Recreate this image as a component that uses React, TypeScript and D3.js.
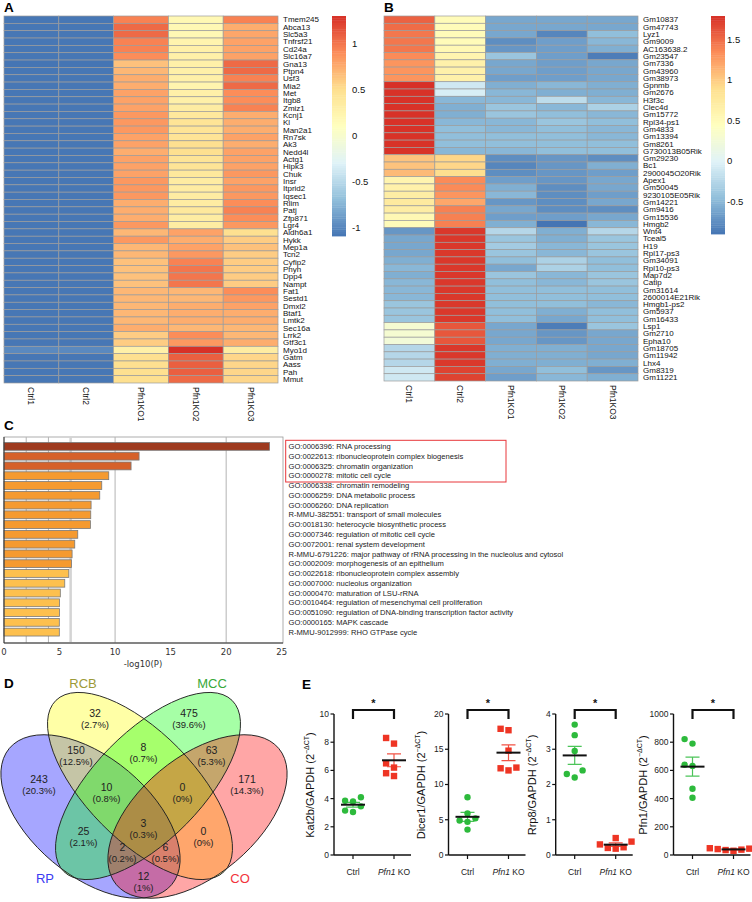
import React from 'react';
import * as d3 from 'd3';

const SANS = 'Liberation Sans, Arial, Helvetica, sans-serif';

// ---------- heatmaps (A, B) ----------
const heatPalette = ['#4575B4', '#91BFDB', '#E0F3F8', '#FFFFBF', '#FEE090', '#FC8D59', '#D73027'];
const samples = ['Ctrl1', 'Ctrl2', 'Pfn1KO1', 'Pfn1KO2', 'Pfn1KO3'];

const genesA = ['Tmem245', 'Abca13', 'Slc5a3', 'Tnfrsf21', 'Cd24a', 'Slc16a7', 'Gna13', 'Ptpn4', 'Usf3', 'Mia2',
  'Met', 'Itgb8', 'Zmiz1', 'Kcnj1', 'Kl', 'Man2a1', 'Rn7sk', 'Ak3', 'Nedd4l', 'Actg1', 'Hipk3', 'Chuk', 'Insr',
  'Itprid2', 'Iqsec1', 'Rlim', 'Patj', 'Zfp871', 'Lgr4', 'Aldh6a1', 'Hykk', 'Mep1a', 'Tcn2', 'Cyfip2', 'Phyh',
  'Dpp4', 'Nampt', 'Fat1', 'Sestd1', 'Dmxl2', 'Btaf1', 'Lmtk2', 'Sec16a', 'Lrrk2', 'Gtf3c1', 'Myo1d', 'Gatm',
  'Aass', 'Pah', 'Mmut'];

const exprA = [
  [-1.08, -1.08, 0.95, 0.2, 0.95], [-1.08, -1.08, 1.05, 0.2, 0.75], [-1.08, -1.08, 1.05, 0.2, 0.78],
  [-1.08, -1.08, 0.95, 0.25, 0.8], [-1.08, -1.08, 0.95, 0.3, 0.8], [-1.08, -1.08, 0.9, 0.3, 0.8],
  [-1.09, -1.09, 0.65, 0.3, 1.05], [-1.08, -1.08, 0.7, 0.3, 1.05], [-1.08, -1.08, 0.75, 0.3, 0.95],
  [-1.08, -1.08, 0.75, 0.25, 1.05], [-1.08, -1.08, 0.8, 0.3, 0.9], [-1.08, -1.08, 0.8, 0.3, 0.9],
  [-1.08, -1.08, 0.8, 0.35, 0.95], [-1.08, -1.08, 0.85, 0.4, 0.75], [-1.08, -1.08, 0.85, 0.45, 0.75],
  [-1.08, -1.08, 0.85, 0.45, 0.75], [-1.08, -1.08, 0.8, 0.45, 0.8], [-1.08, -1.08, 0.8, 0.5, 0.75],
  [-1.08, -1.08, 0.75, 0.5, 0.8], [-1.08, -1.08, 0.8, 0.45, 0.8], [-1.08, -1.08, 0.8, 0.45, 0.8],
  [-1.08, -1.08, 0.8, 0.4, 0.85], [-1.08, -1.08, 0.85, 0.35, 0.8], [-1.08, -1.08, 0.85, 0.35, 0.85],
  [-1.08, -1.08, 0.85, 0.35, 0.85], [-1.08, -1.08, 0.75, 0.35, 0.9], [-1.08, -1.08, 0.75, 0.4, 0.95],
  [-1.08, -1.08, 0.75, 0.35, 0.9], [-1.08, -1.08, 0.85, 0.35, 0.85], [-1.08, -1.08, 0.7, 0.8, 0.5],
  [-1.08, -1.08, 0.85, 0.75, 0.6], [-1.08, -1.08, 0.7, 0.8, 0.65], [-1.08, -1.08, 0.7, 0.85, 0.6],
  [-1.08, -1.08, 0.65, 0.95, 0.6], [-1.08, -1.08, 0.65, 1.0, 0.6], [-1.08, -1.08, 0.65, 1.0, 0.6],
  [-1.08, -1.08, 0.65, 1.0, 0.6], [-1.08, -1.08, 0.7, 0.7, 0.9], [-1.08, -1.08, 0.7, 0.7, 0.85],
  [-1.08, -1.08, 0.7, 0.75, 0.8], [-1.08, -1.08, 0.7, 0.75, 0.75], [-1.08, -1.08, 0.7, 0.75, 0.75],
  [-1.08, -1.08, 0.75, 0.7, 0.7], [-1.08, -1.08, 0.6, 0.9, 0.7], [-1.08, -1.08, 0.6, 0.85, 0.75],
  [-0.98, -0.98, 0.3, 1.3, 0.35], [-1.08, -1.08, 0.5, 1.1, 0.55], [-1.08, -1.08, 0.5, 1.1, 0.55],
  [-1.08, -1.08, 0.5, 1.1, 0.55], [-1.08, -1.08, 0.5, 1.05, 0.55],
];
const legendTicksA = [-1, -0.5, 0, 0.5, 1];

const genesB = ['Gm10837', 'Gm47743', 'Lyz1', 'Gm9009', 'AC163638.2', 'Gm23547', 'Gm7336', 'Gm43960', 'Gm38973',
  'Gpnmb', 'Gm2676', 'H3f3c', 'Clec4d', 'Gm15772', 'Rpl34-ps1', 'Gm4833', 'Gm13394', 'Gm8261', 'G730013B05Rik',
  'Gm29230', 'Bc1', '2900045O20Rik', 'Apex1', 'Gm50045', '9230105E05Rik', 'Gm14221', 'Gm9416', 'Gm15536', 'Hmgb2',
  'Wnt4', 'Tceal5', 'H19', 'Rpl17-ps3', 'Gm34091', 'Rpl10-ps3', 'Map7d2', 'Catip', 'Gm31614', '2600014E21Rik',
  'Hmgb1-ps2', 'Gm5937', 'Gm16433', 'Lsp1', 'Gm2710', 'Epha10', 'Gm18705', 'Gm11942', 'Lhx4', 'Gm8319', 'Gm11221'];

const exprB = [
  [1.55, 0.5, -0.6, -0.6, -0.6], [1.5, 0.5, -0.6, -0.6, -0.6], [1.45, 0.5, -0.6, -0.8, -0.45],
  [1.45, 0.5, -0.75, -0.65, -0.5], [1.45, 0.55, -0.7, -0.65, -0.55], [1.35, 0.6, -0.4, -0.65, -0.85],
  [1.3, 0.65, -0.6, -0.65, -0.6], [1.3, 0.65, -0.6, -0.65, -0.6], [1.3, 0.65, -0.65, -0.65, -0.6],
  [1.79, -0.1, -0.55, -0.5, -0.55], [1.78, -0.05, -0.5, -0.55, -0.55], [1.78, -0.5, -0.5, -0.2, -0.5],
  [1.78, -0.55, -0.4, -0.5, -0.3], [1.78, -0.55, -0.4, -0.45, -0.5], [1.78, -0.5, -0.5, -0.4, -0.45],
  [1.78, -0.45, -0.5, -0.45, -0.5], [1.78, -0.45, -0.45, -0.45, -0.5], [1.78, -0.45, -0.45, -0.45, -0.45],
  [1.78, -0.5, -0.5, -0.45, -0.45], [1.05, 0.95, -0.75, -0.7, -0.75], [1.05, 0.95, -0.8, -0.7, -0.55],
  [1.1, 0.9, -0.75, -0.7, -0.65], [0.6, 1.35, -0.65, -0.7, -0.6], [0.65, 1.35, -0.55, -0.75, -0.6],
  [0.7, 1.3, -0.5, -0.75, -0.65], [0.75, 1.2, -0.7, -0.75, -0.6], [0.7, 1.4, -0.6, -0.75, -0.75],
  [0.55, 1.4, -0.65, -0.65, -0.6], [0.5, 1.4, -0.55, -0.9, -0.5], [-0.7, 1.75, -0.25, -0.55, -0.25],
  [-0.6, 1.75, -0.4, -0.55, -0.4], [-0.6, 1.75, -0.35, -0.5, -0.4], [-0.6, 1.75, -0.4, -0.5, -0.4],
  [-0.55, 1.75, -0.45, -0.3, -0.45], [-0.5, 1.75, -0.6, -0.3, -0.45], [-0.55, 1.75, -0.4, -0.5, -0.4],
  [-0.5, 1.75, -0.45, -0.5, -0.4], [-0.5, 1.75, -0.45, -0.45, -0.45], [-0.5, 1.75, -0.45, -0.45, -0.45],
  [-0.4, 1.75, -0.45, -0.45, -0.5], [-0.4, 1.75, -0.45, -0.55, -0.45], [-0.4, 1.75, -0.45, -0.6, -0.45],
  [0.3, 1.6, -0.6, -0.85, -0.4], [0.3, 1.6, -0.6, -0.7, -0.6], [0.25, 1.6, -0.6, -0.7, -0.6],
  [-0.25, 1.75, -0.55, -0.55, -0.6], [-0.25, 1.75, -0.55, -0.55, -0.6], [-0.25, 1.75, -0.55, -0.55, -0.55],
  [-0.1, 1.7, -0.6, -0.45, -0.7], [-0.1, 1.7, -0.65, -0.5, -0.55],
];
const legendTicksB = [-0.5, 0, 0.5, 1, 1.5];

// ---------- enrichment (C) ----------
const goTerms = ['GO:0006396: RNA processing', 'GO:0022613: ribonucleoprotein complex biogenesis',
  'GO:0006325: chromatin organization', 'GO:0000278: mitotic cell cycle', 'GO:0006338: chromatin remodeling',
  'GO:0006259: DNA metabolic process', 'GO:0006260: DNA replication', 'R-MMU-382551: transport of small molecules',
  'GO:0018130: heterocycle biosynthetic process', 'GO:0007346: regulation of mitotic cell cycle',
  'GO:0072001: renal system development',
  'R-MMU-6791226: major pathway of rRNA processing in the nucleolus and cytosol',
  'GO:0002009: morphogenesis of an epithelium', 'GO:0022618: ribonucleoprotein complex assembly',
  'GO:0007000: nucleolus organization', 'GO:0000470: maturation of LSU-rRNA',
  'GO:0010464: regulation of mesenchymal cell proliferation',
  'GO:0051090: regulation of DNA-binding transcription factor activity', 'GO:0000165: MAPK cascade',
  'R-MMU-9012999: RHO GTPase cycle'];
const goLogP = [23.9, 12.16, 11.44, 9.43, 8.8, 8.62, 7.84, 7.81, 7.78, 6.64, 6.37, 6.13, 6.07, 5.83, 5.47,
  5.07, 5.0, 5.0, 4.98, 4.98];
const goGridLines = [2, 4, 6, 10, 20];

// ---------- venn (D) ----------
const vennSets = ['RP', 'RCB', 'MCC', 'CO'];
const vennSetColors = ['#0000FF', '#FFFF00', '#00FF00', '#FF0000'];
const vennLabelColors = ['#3B3BF2', '#9C9A38', '#38A838', '#F2333A'];
const vennRegions = ['RP', 'RCB', 'MCC', 'CO', 'RP&RCB', 'RCB&MCC', 'MCC&CO', 'RP&RCB&MCC', 'RCB&MCC&CO',
  'RP&MCC', 'RP&RCB&MCC&CO', 'RCB&CO', 'RP&MCC&CO', 'RP&RCB&CO', 'RP&CO'];
const vennCounts = [243, 32, 475, 171, 150, 8, 63, 10, 0, 25, 3, 0, 2, 6, 12];

// ---------- qPCR (E) ----------
const qpcrGenes = ['Kat2b', 'Dicer1', 'Rrp8', 'Pfn1'];
const qpcrMax = [10, 20, 4, 1000];
const ctrlVals = [
  [3.05, 3.15, 3.45, 3.8, 3.85, 4.1],
  [3.6, 4.7, 4.9, 5.2, 5.9, 8.2],
  [2.2, 2.3, 2.4, 2.95, 3.4, 3.7],
  [406, 470, 632, 640, 790, 822],
];
const koVals = [
  [5.6, 5.8, 6.2, 6.5, 7.9, 8.3],
  [12.0, 12.3, 12.4, 14.8, 17.7, 17.9],
  [0.18, 0.2, 0.22, 0.3, 0.38, 0.48],
  [30, 35, 38, 42, 45, 48],
];

// layout
const vennShapes = [
  { cx: 90.5, cy: 816.5, rx: 106, ry: 59, rot: 40 },
  { cx: 140, cy: 786, rx: 120, ry: 54, rot: 45.5 },
  { cx: 148, cy: 786, rx: 120, ry: 54, rot: -45.5 },
  { cx: 197.5, cy: 816.5, rx: 106, ry: 59, rot: -40 },
];
const vennLabelPos: Record<string, [number, number]> = {
  'RP': [39, 779], 'RCB': [95, 713], 'MCC': [189, 713], 'CO': [247, 779],
  'RP&RCB': [76, 750], 'RCB&MCC': [143.5, 747], 'MCC&CO': [211.5, 750],
  'RP&RCB&MCC': [106.5, 787], 'RCB&MCC&CO': [182.5, 787],
  'RP&MCC': [83.5, 831], 'RP&RCB&MCC&CO': [143.5, 823], 'RCB&CO': [203.5, 831],
  'RP&MCC&CO': [122.5, 847], 'RP&RCB&CO': [165.5, 847], 'RP&CO': [143.5, 876],
};
const vennTitlePos: [number, number][] = [[45, 883], [83, 688], [212, 688], [240, 883]];
const qpcrAxisX = [334, 448.5, 555.7, 673.5];
const qpcrTitleX = [314, 425, 535.7, 646.7];

function Heatmap({ genes, expr, x0, x1, y0, y1, legX, legY0, legY1, legTicks, legLabelDx }: {
  genes: string[]; expr: number[][]; x0: number; x1: number; y0: number; y1: number;
  legX: number; legY0: number; legY1: number; legTicks: number[]; legLabelDx: number;
}) {
  const [vmin, vmax] = d3.extent(expr.flat()) as [number, number];
  const x = d3.scaleBand().domain(samples).range([x0, x1]);
  const y = d3.scaleBand().domain(genes).range([y0, y1]);
  const stops = heatPalette.map((_, i) => vmin + ((vmax - vmin) * i) / (heatPalette.length - 1));
  const color = d3.scaleLinear<string>().domain(stops).range(heatPalette);
  const ly = d3.scaleLinear().domain([vmin, vmax]).range([legY1, legY0]);
  const steps = d3.range(100).map((i) => vmin + ((vmax - vmin) * i) / 100);
  const dv = (vmax - vmin) / 100;
  return (
    <g>
      {genes.map((g, r) =>
        samples.map((s, c) => (
          <rect key={g + s} x={x(s)} y={y(g)} width={x.bandwidth()} height={y.bandwidth()}
            fill={color(expr[r][c])} stroke="#9c9c9c" strokeWidth={0.7} />
        )),
      )}
      {genes.map((g) => (
        <text key={g} x={x1 + 5} y={(y(g) as number) + y.bandwidth() / 2} dy="0.35em" fontSize={8} fill="#111">{g}</text>
      ))}
      {samples.map((s) => (
        <text key={s} transform={`translate(${(x(s) as number) + x.bandwidth() / 2},${y1 + 4}) rotate(90)`}
          dy="0.35em" fontSize={8.5} fill="#111">{s}</text>
      ))}
      {steps.map((v) => (
        <rect key={v} x={legX} y={ly(v + dv)} width={14} height={ly(v) - ly(v + dv) + 0.4} fill={color(v + dv / 2)} />
      ))}
      {legTicks.map((t) => (
        <text key={t} x={legX + legLabelDx} y={ly(t)} dy="0.35em" fontSize={9.5} fill="#111">{t}</text>
      ))}
    </g>
  );
}

function barColor(v: number) {
  if (v > 20) return '#9E3A1F';
  if (v > 10) return '#D5612A';
  if (v > 6) return '#F59A30';
  return '#FDC04E';
}

function Enrichment() {
  const x = d3.scaleLinear().domain([0, 25]).range([4, 281.7]);
  const y = d3.scaleBand().domain(goTerms).range([441.5, 637]).paddingInner(0.2).paddingOuter(0.1);
  const top = 437, bottom = 643, right = 283;
  return (
    <g>
      <rect x={4} y={top} width={right - 4} height={bottom - top} fill="none" stroke="#9a9a9a" strokeWidth={0.8} />
      {goGridLines.map((t) => (
        <line key={t} x1={x(t)} x2={x(t)} y1={top} y2={bottom}
          stroke={t === 6 ? '#d4d4d4' : '#b4b4b4'} strokeWidth={t === 6 ? 2.5 : 1} />
      ))}
      {goTerms.map((g, i) => (
        <rect key={g} x={x(0)} y={y(g)} width={x(goLogP[i]) - x(0)} height={y.bandwidth()}
          fill={barColor(goLogP[i])} stroke="#7a7a7a" strokeWidth={0.8} />
      ))}
      <line x1={4} x2={4} y1={top} y2={bottom} stroke="#333" strokeWidth={1} />
      <line x1={4} x2={right} y1={bottom} y2={bottom} stroke="#333" strokeWidth={1} />
      {x.ticks(5).map((t) => (
        <text key={t} x={x(t)} y={655} textAnchor="middle" fontSize={8.5} fill="#333"
          fontFamily="DejaVu Sans, sans-serif">{t}</text>
      ))}
      <text x={143} y={667} textAnchor="middle" fontSize={8.5} fill="#333" fontFamily="DejaVu Sans, sans-serif">-log10(P)</text>
      {goTerms.map((g) => (
        <text key={g} x={288.5} y={(y(g) as number) + y.bandwidth() / 2} dy="0.35em" fontSize={7.6} fill="#222">{g}</text>
      ))}
      <rect x={285.7} y={440.3} width={220.3} height={41.7} fill="none" stroke="#E8363A" strokeWidth={1} />
    </g>
  );
}

function Venn() {
  const total = d3.sum(vennCounts);
  const pct = (c: number) => String(Math.round((c * 1000) / total) / 10);
  return (
    <g>
      {vennShapes.map((s, i) => (
        <ellipse key={vennSets[i]} cx={s.cx} cy={s.cy} rx={s.rx} ry={s.ry}
          transform={`rotate(${s.rot} ${s.cx} ${s.cy})`} fill={vennSetColors[i]} fillOpacity={0.35} />
      ))}
      {vennShapes.map((s, i) => (
        <ellipse key={'o' + vennSets[i]} cx={s.cx} cy={s.cy} rx={s.rx} ry={s.ry}
          transform={`rotate(${s.rot} ${s.cx} ${s.cy})`} fill="none" stroke="#222" strokeWidth={0.9} />
      ))}
      {vennRegions.map((r, i) => {
        const [lx, ly] = vennLabelPos[r];
        return (
          <g key={r}>
            <text x={lx} y={ly + 3.5} textAnchor="middle" fontSize={10.5} fill="#222">{vennCounts[i]}</text>
            <text x={lx} y={ly + 15} textAnchor="middle" fontSize={9.5} fill="#222">({pct(vennCounts[i])}%)</text>
          </g>
        );
      })}
      {vennSets.map((s, i) => (
        <text key={s} x={vennTitlePos[i][0]} y={vennTitlePos[i][1]} textAnchor="middle" fontSize={13}
          fill={vennLabelColors[i]}>{s}</text>
      ))}
    </g>
  );
}

function swarm(vals: number[], y: (v: number) => number, cx: number, r: number) {
  const placed: [number, number][] = [];
  const out: [number, number][] = new Array(vals.length);
  const order = d3.range(vals.length).sort((a, b) => vals[a] - vals[b]);
  const offsets = [0, -1, 1, -2, 2, -3, 3];
  for (const i of order) {
    const py = y(vals[i]);
    let px = cx;
    for (const o of offsets) {
      const tx = cx + o * (r * 2 + 1.5);
      if (placed.every(([qx, qy]) => Math.hypot(qx - tx, qy - py) >= r * 2 + 0.8)) { px = tx; break; }
    }
    placed.push([px, py]);
    out[i] = [px, py];
  }
  return out;
}

function DotPlot({ idx }: { idx: number }) {
  const ax = qpcrAxisX[idx];
  const y = d3.scaleLinear().domain([0, qpcrMax[idx]]).range([855, 714]);
  const x = d3.scalePoint().domain(['Ctrl', 'KO']).range([ax + 19, ax + 60]);
  const groups = [
    { key: 'Ctrl', vals: ctrlVals[idx], color: '#2DBA3C' },
    { key: 'KO', vals: koVals[idx], color: '#EE3524' },
  ];
  const cx0 = x('Ctrl') as number, cx1 = x('KO') as number;
  const titleX = qpcrTitleX[idx];
  return (
    <g>
      <line x1={ax} x2={ax} y1={714} y2={855} stroke="#111" strokeWidth={1.4} />
      <line x1={ax} x2={ax + 77} y1={855} y2={855} stroke="#111" strokeWidth={1.4} />
      {y.ticks(5).map((t) => (
        <g key={t}>
          <line x1={ax - 3.5} x2={ax} y1={y(t)} y2={y(t)} stroke="#111" strokeWidth={1.2} />
          <text x={ax - 5} y={y(t)} dy="0.35em" textAnchor="end" fontSize={8.5} fill="#222">{t}</text>
        </g>
      ))}
      {[cx0, cx1].map((cx) => (
        <line key={cx} x1={cx} x2={cx} y1={855} y2={859} stroke="#111" strokeWidth={1.2} />
      ))}
      <text x={cx0} y={875} textAnchor="middle" fontSize={8.5} fill="#222">Ctrl</text>
      <text x={cx1} y={875} textAnchor="middle" fontSize={8.5} fill="#222">
        <tspan fontStyle="italic">Pfn1</tspan> KO
      </text>
      <text transform={`translate(${titleX},785) rotate(-90)`} textAnchor="middle" fontSize={11} fill="#111">
        {qpcrGenes[idx]}/GAPDH (2<tspan fontSize={7} dy={-5}>−ΔCT</tspan><tspan dy={5}>)</tspan>
      </text>
      <path d={`M${cx0},719V710H${cx1}V719`} fill="none" stroke="#111" strokeWidth={2.2} />
      <text x={(cx0 + cx1) / 2} y={707} textAnchor="middle" fontSize={11} fontWeight="bold" fill="#111">*</text>
      {groups.map((gr) => {
        const cx = x(gr.key) as number;
        const m = d3.mean(gr.vals) as number;
        const sem = (d3.deviation(gr.vals) as number) / Math.sqrt(gr.vals.length);
        const pts = swarm(gr.vals, y, cx, 3.2);
        return (
          <g key={gr.key}>
            {pts.map(([px, py], i) =>
              gr.key === 'Ctrl' ? (
                <circle key={i} cx={px} cy={py} r={3.2} fill={gr.color} />
              ) : (
                <rect key={i} x={px - 3.2} y={py - 3.2} width={6.4} height={6.4} fill={gr.color} />
              ),
            )}
            <path d={`M${cx - 7},${y(m + sem)}H${cx + 7}M${cx},${y(m + sem)}V${y(m - sem)}M${cx - 7},${y(m - sem)}H${cx + 7}`}
              fill="none" stroke={gr.color} strokeWidth={1.2} opacity={0.85} />
            <line x1={cx - 12} x2={cx + 12} y1={y(m)} y2={y(m)} stroke="#111" strokeWidth={2} />
          </g>
        );
      })}
    </g>
  );
}

export default function App() {
  return (
    <div>
      <style>{'body{margin:0}'}</style>
      <svg width={752} height={902} fontFamily={SANS} style={{ display: 'block', background: '#fff' }}>
        <rect width={752} height={902} fill="#fff" />
        <Heatmap genes={genesA} expr={exprA} x0={4} x1={278} y0={16} y1={383}
          legX={332} legY0={16} legY1={236} legTicks={legendTicksA} legLabelDx={20} />
        <Heatmap genes={genesB} expr={exprB} x0={384} x1={638} y0={16} y1={381}
          legX={711} legY0={16} legY1={234} legTicks={legendTicksB} legLabelDx={16} />
        <Enrichment />
        <Venn />
        {qpcrGenes.map((g, i) => <DotPlot key={g} idx={i} />)}
        {[['A', 4, 12], ['B', 384, 12], ['C', 4, 430], ['D', 4, 688], ['E', 302, 689]].map(([l, lx, ly]) => (
          <text key={l as string} x={lx as number} y={ly as number} fontSize={13.5} fontWeight="bold" fill="#000">{l}</text>
        ))}
      </svg>
    </div>
  );
}
